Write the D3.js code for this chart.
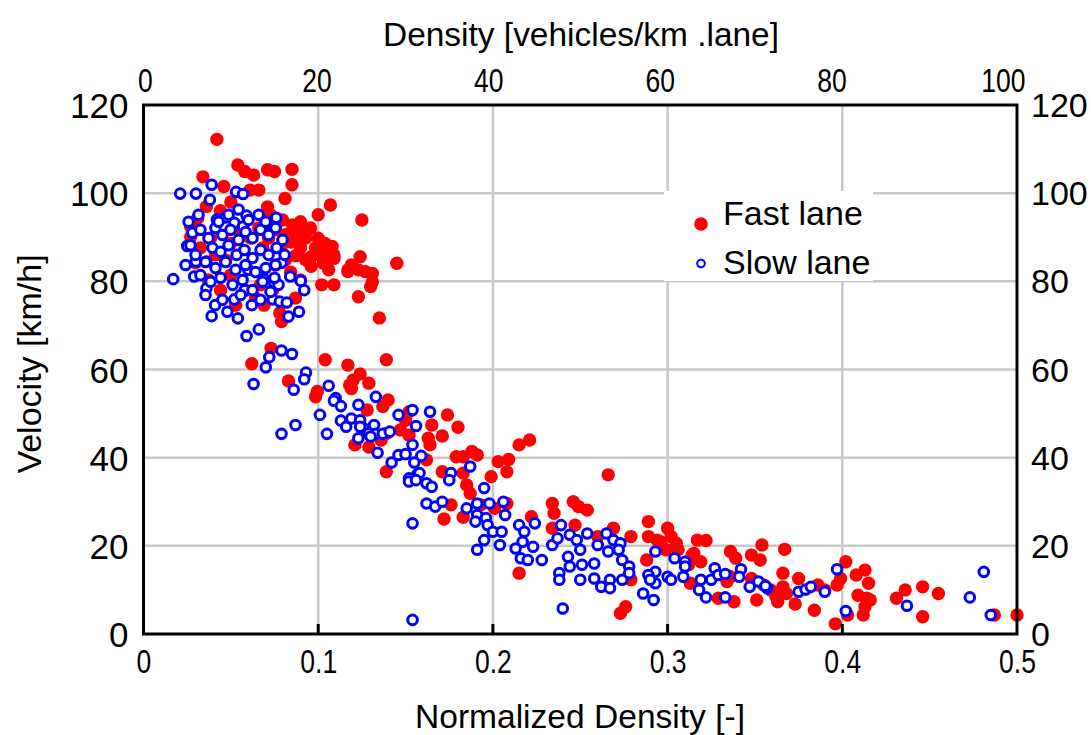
<!DOCTYPE html>
<html><head><meta charset="utf-8">
<script src="https://cdn.jsdelivr.net/npm/d3@7"></script>
<style>body{margin:0;background:#fff;} svg{display:block;}</style>
</head><body><svg id="c" width="1091" height="735"></svg>
<script>
const xTicks=[0,0.1,0.2,0.3,0.4,0.5];
const xTickLabels=["0","0.1","0.2","0.3","0.4","0.5"];
const topTicks=[0,20,40,60,80,100];
const yTicks=[0,20,40,60,80,100,120];
const xTitle="Normalized Density [-]";
const topTitle="Density [vehicles/km .lane]";
const yTitle="Velocity [km/h]";
const seriesNames=["Fast lane","Slow lane"];

// Fast lane: [normalized density, velocity]
const fastLane=[
[.042,112.2],[.054,106.4],[.058,104.9],[.063,104.1],[.071,105.3],[.075,104.9],[.085,105.4],[.085,101.9],[.034,103.7],[.046,101.5],[.061,100.7],[.066,100.7],[.081,98.8],[.107,97.3],[.071,96.9],[.100,95.1],[.027,92.4],[.031,94.3],[.027,90.1],
[.069,74.6],[.087,76.2],[.079,70.9],[.078,72.8],[.102,79.2],[.109,79.2],[.096,85.6],[.096,83.4],[.105,86.0],[.109,85.2],[.117,82.6],[.073,64.8],[.062,61.3],[.083,57.4],[.104,62.2],[.117,61.0],[.0995,55.0],[.0985,53.8],[.118,56.5],
[.125,93.9],[.094,91.7],[.090,90.1],[.100,89.8],[.104,88.6],[.108,87.9],[.109,86.0],[.103,84.1],[.106,82.6],[.124,85.6],[.119,83.7],[.117,82.2],[.123,82.6],[.127,82.2],[.131,81.8],[.131,79.9],[.145,84.1],[.130,78.8],[.123,76.5],[.135,71.7],
[.0727,95.1],[.0796,93.9],[.0853,92.8],[.0899,93.5],[.0956,92.1],[.0876,91.2],[.0813,90.6],[.0756,91.7],[.0928,89.8],[.0842,88.9],[.0785,87.6],[.0899,87.6],[.0985,87.6],[.0871,85.8],[.0813,84.9],[.0928,84.9],[.1014,85.8],[.0756,83.7],[.0842,82.1],[.0899,80.3],[.0716,89.8],[.0682,87.6],[.0659,92.1],[.0613,89.8],[.0556,90.9],[.0498,88.6],[.047,84.8],[.0412,86.0],[.0384,89.8],[.0326,87.6],[.0298,84.2],[.0498,81.4],[.0584,78.0],[.067,79.2],[.0739,78.0],[.0641,76.2],[.0441,78.0],[.0527,74.6],[.0372,80.3],[.036,97.0],[.044,96.0],[.050,98.0],
[.139,62.2],[.124,59.0],[.120,57.6],[.119,55.7],[.129,56.9],[.140,53.1],[.137,51.6],[.128,50.8],[.152,50.4],[.150,48.5],[.147,46.3],[.152,45.1],[.165,47.4],[.163,44.4],[.171,44.9],[.164,42.9],[.174,49.7],[.180,46.9],[.121,42.9],[.129,42.4],[.139,45.5],[.136,44.0],[.179,40.2],[.183,40.2],[.188,41.4],[.191,40.6],[.162,39.5],[.203,39.1],[.209,39.6],[.208,36.8],[.215,42.9],[.221,44.0],[.199,35.7],[.139,36.8],[.171,36.8],[.183,36.5],
[.185,33.8],[.187,31.9],[.176,29.3],[.172,26.1],[.183,26.5],[.208,29.6],[.201,28.5],[.222,26.6],[.234,29.6],[.235,27.4],[.234,24.0],[.246,30.0],[.249,28.9],[.254,28.1],[.266,36.1],[.247,24.7],[.260,22.1],[.269,24.0],[.279,22.1],[.289,25.5],[.289,22.1],[.294,21.3],[.300,24.0],[.302,22.1],[.306,19.1],[.315,18.3],[.317,21.3],[.215,13.8],[.273,4.7],[.276,6.2],[.288,16.8],[.313,11.5],[.279,12.3],[.193,29.3],
[.296,20.9],[.305,20.6],[.299,19.1],[.322,21.2],[.314,17.9],[.319,16.4],[.312,15.7],[.336,18.7],[.339,17.2],[.348,17.9],[.353,16.8],[.354,20.2],[.367,19.2],[.329,8.1],[.338,7.3],[.351,7.7],[.334,11.9],[.336,13.0],[.348,12.6],[.355,11.1],[.359,10.0],[.362,8.5],[.363,7.3],[.366,10.7],[.368,9.2],[.373,6.8],[.366,13.8],[.375,12.6],[.384,5.4],[.386,11.1],[.390,10.0],[.397,11.1],[.399,12.6],[.402,16.4],[.408,13.4],[.413,14.5],[.415,11.5],[.409,8.8],[.414,8.1],[.416,7.7],[.413,6.2],[.412,4.3],[.403,4.3],[.396,2.3],[.431,8.1],[.436,10.0],[.446,10.7],[.455,9.2],[.446,3.9],[.487,4.3],[.500,4.3]
];

// Slow lane: [normalized density, velocity]
const slowLane=[
[.021,99.9],[.030,99.9],[.039,101.9],[.038,98.5],[.053,100.3],[.057,99.8],[.059,94.9],[.076,94.4],[.071,93.2],[.028,91.0],[.025,88.0],[.042,94.0],[.047,94.5],[.052,93.3],[.057,92.4],[.030,84.5],[.036,84.5],[.079,84.2],
[.017,80.5],[.029,81.1],[.036,78.4],[.041,74.6],[.039,72.1],[.048,73.1],[.054,71.6],[.059,67.6],[.066,69.1],[.062,74.6],[.052,75.9],[.058,78.0],[.074,75.9],[.078,75.4],[.082,75.2],[.089,73.1],[.083,72.0],[.092,78.0],[.090,80.1],[.084,81.1],[.075,79.6],[.069,80.5],[.060,82.6],[.079,64.3],[.085,63.5],[.072,62.8],[.070,60.5],[.093,59.3],[.092,57.8],[.063,56.7],[.086,55.4],[.106,56.3],[.110,53.5],
[.0326,91.7],[.0372,89.8],[.0412,92.1],[.0452,90.5],[.0498,91.7],[.0544,89.4],[.0584,91.2],[.0624,89.8],[.067,91.7],[.0716,90.5],[.0756,92.1],[.0796,89.4],[.0395,87.6],[.0441,86.7],[.0487,88.2],[.0533,86.0],[.0578,87.1],[.0624,85.3],[.067,87.1],[.0716,86.0],[.0762,87.6],[.0808,86.0],[.0355,84.4],[.0412,83.0],[.047,84.4],[.0527,82.6],[.0584,83.7],[.0641,82.1],[.0699,83.0],[.0756,83.7],[.0269,88.2],[.0298,86.0],[.0241,83.7],[.0326,81.4],[.0384,79.9],[.0441,80.8],[.051,79.2],[.0567,80.3],[.0624,78.0],[.0682,79.9],[.0727,77.6],[.0773,79.2],[.0258,93.5],[.0315,95.1],[.0601,93.9],[.0659,95.1],[.0699,93.5],[.0487,95.1],[.0544,96.3],[.043,93.5],[.0355,76.9],[.0452,75.8],[.0556,76.9],[.067,75.8],[.075,80.8],
[.101,49.7],[.087,47.4],[.079,45.4],[.105,45.4],[.109,52.9],[.113,51.7],[.123,52.0],[.133,53.8],[.113,48.4],[.116,47.0],[.119,48.9],[.124,48.5],[.126,46.6],[.129,45.5],[.132,47.4],[.133,45.4],[.137,45.4],[.141,45.9],[.123,44.4],[.130,44.8],[.124,47.0],[.134,41.1],[.142,38.9],[.146,49.7],[.154,50.8],[.164,50.4],[.156,47.2],[.154,42.9],[.146,40.6],[.150,40.8],[.159,40.4],[.155,38.9],[.157,36.3],[.176,36.5],[.187,38.0],[.152,35.3],
[.158,36.5],[.152,34.6],[.156,34.9],[.162,34.2],[.165,33.4],[.175,34.9],[.162,29.6],[.167,28.9],[.171,30.0],[.154,25.1],[.195,33.1],[.185,28.5],[.191,29.6],[.198,29.6],[.191,27.0],[.190,25.5],[.196,26.3],[.197,24.7],[.200,23.2],[.205,23.2],[.206,30.0],[.207,27.0],[.195,21.3],[.191,19.1],[.204,20.2],[.215,24.7],[.218,23.2],[.224,25.1],[.217,20.9],[.213,19.4],[.223,19.8],[.216,17.2],[.220,16.8],[.228,16.8],
[.234,20.2],[.237,21.7],[.239,24.7],[.244,22.5],[.248,21.3],[.250,19.1],[.254,22.8],[.243,17.5],[.244,15.3],[.238,13.8],[.238,12.3],[.251,15.7],[.250,12.3],[.258,16.0],[.258,12.6],[.262,10.7],[.260,20.2],[.265,22.8],[.266,18.7],[.267,12.3],[.267,10.4],[.269,21.3],[.273,20.6],[.272,19.1],[.274,16.8],[.274,12.3],[.278,15.3],[.278,13.8],
[.240,5.8],[.154,3.2],
[.286,9.2],[.292,7.7],[.293,18.7],[.293,14.1],[.293,11.5],[.289,13.4],[.290,12.3],[.300,13.0],[.304,17.2],[.302,12.3],[.309,13.0],[.310,16.4],[.310,15.3],[.319,12.3],[.318,10.0],
[.322,8.3],[.325,12.3],[.327,14.9],[.329,13.4],[.333,13.6],[.333,8.3],[.342,14.7],[.341,13.0],[.347,10.7],[.352,11.9],[.357,10.4],[.356,10.9],[.375,9.6],[.379,10.1],[.382,10.7],[.390,9.6],[.397,14.7],[.402,5.2],[.437,6.4],[.473,8.3],[.481,14.1],[.485,4.3]
];

const svg=d3.select("#c");
const L=143.5,R=1017,T=105,B=634;
const x=d3.scaleLinear().domain([0,0.5]).range([L,R]);
const xTop=d3.scaleLinear().domain([0,100]).range([145,1003]);
const y=d3.scaleLinear().domain([0,120]).range([B,T]);
const fontMain="'Liberation Sans', Arial, Helvetica, sans-serif";
const fontNarrow="'Liberation Sans Narrow','Arial Narrow','Liberation Sans', Arial, sans-serif";

// grid
const grid=svg.append("g");
grid.selectAll("line.v").data(xTicks.slice(1,-1)).join("line")
 .attr("x1",d=>x(d)).attr("x2",d=>x(d)).attr("y1",T).attr("y2",B)
 .attr("stroke","#c8c8c8").attr("stroke-width",2.5);
grid.selectAll("line.h").data(yTicks.slice(1,-1)).join("line")
 .attr("y1",d=>y(d)).attr("y2",d=>y(d)).attr("x1",L).attr("x2",R)
 .attr("stroke","#c8c8c8").attr("stroke-width",2.5);

// points
svg.append("g").selectAll("circle").data(fastLane).join("circle")
 .attr("cx",d=>x(d[0])).attr("cy",d=>y(d[1])).attr("r",6.7).attr("fill","#ff0000");
svg.append("g").selectAll("circle").data(slowLane).join("circle")
 .attr("cx",d=>x(d[0])).attr("cy",d=>y(d[1])).attr("r",4.8)
 .attr("fill","#ffffff").attr("stroke","#0000ff").attr("stroke-width",3);

// legend
const lg=svg.append("g");
lg.append("rect").attr("x",664).attr("y",191).attr("width",209).attr("height",90).attr("fill","#fff");
lg.append("circle").attr("cx",701).attr("cy",224).attr("r",6.8).attr("fill","#ff0000");
lg.append("circle").attr("cx",701).attr("cy",263.5).attr("r",3.8).attr("fill","#fff").attr("stroke","#0000ff").attr("stroke-width",2);
lg.append("text").attr("x",723).attr("y",225).text(seriesNames[0]).attr("font-family",fontMain).attr("font-size",34);
lg.append("text").attr("x",723).attr("y",274).text(seriesNames[1]).attr("font-family",fontMain).attr("font-size",34);

// axes
const axB=svg.append("g").attr("transform",`translate(0,${B})`)
 .call(d3.axisBottom(x).tickValues(xTicks).tickFormat((d,i)=>xTickLabels[i]).tickSize(0));
axB.select(".domain").remove();
axB.selectAll("text").attr("y",27).attr("dy","0.36em").attr("font-family",fontNarrow).attr("font-size",34).attr("fill","#000")
 .attr("transform","scale(0.78,1)");

const axT=svg.append("g").attr("transform",`translate(0,${T})`)
 .call(d3.axisTop(xTop).tickValues(topTicks).tickSize(0));
axT.select(".domain").remove();
axT.selectAll("text").attr("y",-25).attr("dy","0.36em").attr("font-family",fontNarrow).attr("font-size",34).attr("fill","#000")
 .attr("transform","scale(0.78,1)");

const axL=svg.append("g").attr("transform",`translate(${L},0)`)
 .call(d3.axisLeft(y).tickValues(yTicks).tickSize(0));
axL.select(".domain").remove();
axL.selectAll("text").attr("x",-15).attr("dy","0.36em").attr("font-family",fontMain).attr("font-size",35).attr("fill","#000");

const axR=svg.append("g").attr("transform",`translate(${R},0)`)
 .call(d3.axisRight(y).tickValues(yTicks).tickSize(0));
axR.select(".domain").remove();
axR.selectAll("text").attr("x",14).attr("dy","0.34em").attr("font-family",fontMain).attr("font-size",34).attr("fill","#000");

// inward bottom ticks
svg.append("g").selectAll("line").data(xTicks.slice(1,-1)).join("line")
 .attr("x1",d=>x(d)).attr("x2",d=>x(d)).attr("y1",B-10).attr("y2",B)
 .attr("stroke","#000").attr("stroke-width",3);

// frame
svg.append("rect").attr("x",L).attr("y",T).attr("width",R-L).attr("height",B-T)
 .attr("fill","none").attr("stroke","#000").attr("stroke-width",3);

// titles
svg.append("text").attr("x",581).attr("y",46).attr("text-anchor","middle")
 .attr("font-family",fontNarrow).attr("font-size",34).attr("textLength",396).attr("lengthAdjust","spacingAndGlyphs").text(topTitle);
svg.append("text").attr("x",580).attr("y",728).attr("text-anchor","middle")
 .attr("font-family",fontNarrow).attr("font-size",34).attr("textLength",330).attr("lengthAdjust","spacingAndGlyphs").text(xTitle);
svg.append("text").attr("transform","translate(41,364) rotate(-90)").attr("text-anchor","middle")
 .attr("font-family",fontMain).attr("font-size",34).text(yTitle);
</script></body></html>
